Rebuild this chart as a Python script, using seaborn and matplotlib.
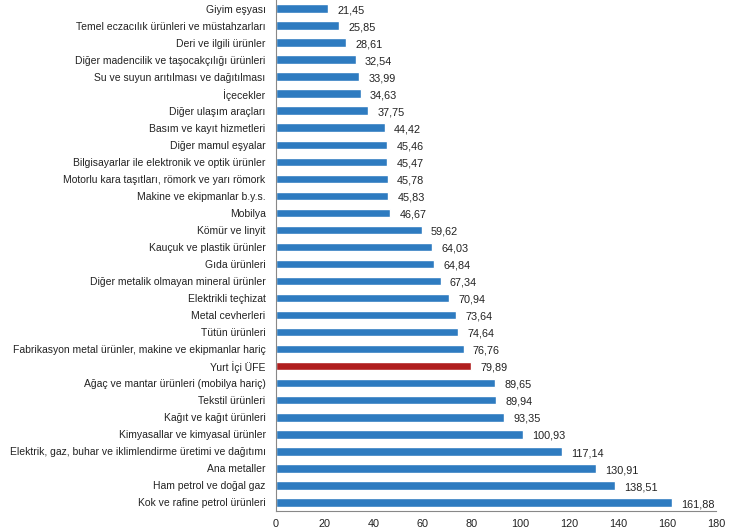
import matplotlib
matplotlib.use("Agg")
import matplotlib.pyplot as plt
import seaborn as sns
import pandas as pd

# Data (top to bottom)
categories = [
    "Giyim eşyası", "Temel eczacılık ürünleri ve müstahzarları", "Deri ve ilgili ürünler",
    "Diğer madencilik ve taşocakçılığı ürünleri", "Su ve suyun arıtılması ve dağıtılması",
    "İçecekler", "Diğer ulaşım araçları", "Basım ve kayıt hizmetleri", "Diğer mamul eşyalar",
    "Bilgisayarlar ile elektronik ve optik ürünler", "Motorlu kara taşıtları, römork ve yarı römork",
    "Makine ve ekipmanlar b.y.s.", "Mobilya", "Kömür ve linyit", "Kauçuk ve plastik ürünler",
    "Gıda ürünleri", "Diğer metalik olmayan mineral ürünler", "Elektrikli teçhizat",
    "Metal cevherleri", "Tütün ürünleri", "Fabrikasyon metal ürünler, makine ve ekipmanlar hariç",
    "Yurt İçi ÜFE", "Ağaç ve mantar ürünleri (mobilya hariç)", "Tekstil ürünleri",
    "Kağıt ve kağıt ürünleri", "Kimyasallar ve kimyasal ürünler",
    "Elektrik, gaz, buhar ve iklimlendirme üretimi ve dağıtımı", "Ana metaller",
    "Ham petrol ve doğal gaz", "Kok ve rafine petrol ürünleri",
]
values = [21.45, 25.85, 28.61, 32.54, 33.99, 34.63, 37.75, 44.42, 45.46, 45.47, 45.78,
          45.83, 46.67, 59.62, 64.03, 64.84, 67.34, 70.94, 73.64, 74.64, 76.76, 79.89,
          89.65, 89.94, 93.35, 100.93, 117.14, 130.91, 138.51, 161.88]
highlight = "Yurt İçi ÜFE"

df = pd.DataFrame({"Kategori": categories, "Deger": values})
blue = "#2E7BC0"
red = "#B01E1E"
palette = {c: (red if c == highlight else blue) for c in categories}

sns.set_theme(style="white")
plt.rcParams["font.family"] = ["Liberation Sans", "DejaVu Sans"]

fig = plt.figure(figsize=(7.29, 5.30), dpi=100)
ax = fig.add_axes([0.3786, 0.036, 0.6035, 0.964])

sns.barplot(data=df, x="Deger", y="Kategori", hue="Kategori", palette=palette,
            order=categories, width=0.5, legend=False, ax=ax, saturation=1)

for i, v in enumerate(values):
    ax.text(v + 3.8, i + 0.1, f"{v:.2f}".replace(".", ","), va="center", ha="left",
            fontsize=7.8, color="#222222")

ax.set_xlim(0, 180)
ax.set_ylim(len(categories) - 0.5, -0.5)
ax.set_xticks(range(0, 181, 20))
ax.set_xlabel("")
ax.set_ylabel("")
ax.tick_params(axis="x", labelsize=7.8, length=4, width=0.8, direction="out",
               pad=2, colors="#222222")
ax.tick_params(axis="x", color="#888888")
ax.tick_params(axis="y", labelsize=7.5, length=0, pad=7.5, colors="#222222")
for s in ["top", "right"]:
    ax.spines[s].set_visible(False)
for s in ["left", "bottom"]:
    ax.spines[s].set_color("#888888")
    ax.spines[s].set_linewidth(0.8)

fig.savefig("out.png", dpi=100)
